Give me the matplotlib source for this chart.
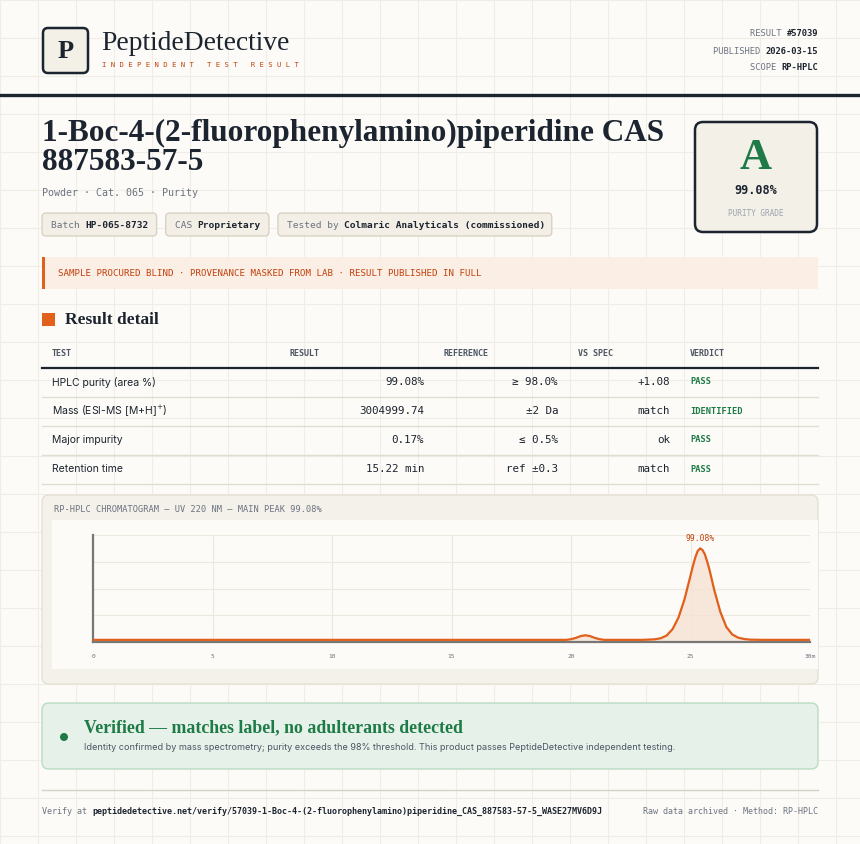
import matplotlib
matplotlib.use("Agg")
import matplotlib.pyplot as plt
from matplotlib.patches import FancyBboxPatch, Rectangle, Circle

# ---- data ----
time_min = [0, 5, 10, 15, 19.8, 20.0, 20.2, 20.4, 20.6, 20.8, 21.0, 21.2, 21.4, 23.0, 23.5, 23.75, 24.0, 24.25, 24.5, 24.75,
            25.0, 25.1, 25.2, 25.3, 25.4, 25.5, 25.6, 25.7, 25.8, 26.0, 26.25, 26.5, 26.75, 27.0, 27.25, 27.5, 28.0, 30.0]
signal = [0.02, 0.02, 0.02, 0.02, 0.02, 0.026, 0.038, 0.055, 0.063, 0.055, 0.038, 0.026, 0.02, 0.02, 0.025, 0.035, 0.06, 0.12, 0.23, 0.40,
          0.62, 0.71, 0.79, 0.85, 0.875, 0.86, 0.82, 0.75, 0.67, 0.48, 0.28, 0.14, 0.07, 0.04, 0.028, 0.022, 0.02, 0.02]
x_ticks = [0, 5, 10, 15, 20, 25, 30]
x_tick_labels = ["0", "5", "10", "15", "20", "25", "30m"]
table_headers = ["TEST", "RESULT", "REFERENCE", "VS SPEC", "VERDICT"]
tests = ["HPLC purity (area %)", "Mass (ESI-MS [M+H]$^{+}$)", "Major impurity", "Retention time"]
results = ["99.08%", "3004999.74", "0.17%", "15.22 min"]
references = ["≥ 98.0%", "±2 Da", "≤ 0.5%", "ref ±0.3"]
vs_spec = ["+1.08", "match", "ok", "match"]
verdicts = ["PASS", "IDENTIFIED", "PASS", "PASS"]
chips = [("Batch ", "HP-065-8732"), ("CAS ", "Proprietary"), ("Tested by ", "Colmaric Analyticals (commissioned)")]
meta = [("RESULT ", "#57039"), ("PUBLISHED ", "2026-03-15"), ("SCOPE ", "RP-HPLC")]

W, H = 860, 844
DARK = "#1c2430"; ORANGE = "#c2410c"; LINE_OR = "#e0601c"; GRAY = "#6b7280"; GREEN = "#1e7a46"
SERIF = "Liberation Serif"; MONO = "DejaVu Sans Mono"; SANS = "Inter"

fig = plt.figure(figsize=(W/100, H/100), dpi=100)
fig.patch.set_facecolor("#fcfbf7")
ax = fig.add_axes([0, 0, 1, 1])
ax.set_xlim(0, W); ax.set_ylim(H, 0); ax.axis("off")

for gx in range(0, W, 38):
    ax.plot([gx, gx], [0, H], color="#efede6", lw=0.8, zorder=0)
for gy in range(0, H, 38):
    ax.plot([0, W], [gy, gy], color="#efede6", lw=0.8, zorder=0)

def rbox(x0, y0, x1, y1, fc, ec, lw=1, r=4, z=1):
    ax.add_patch(FancyBboxPatch((x0, y0), x1-x0, y1-y0, boxstyle=f"round,pad=0,rounding_size={r}",
                                fc=fc, ec=ec, lw=lw, zorder=z))

def mw(s, size):
    return len(s) * size * 0.602 * 100 / 72

# header
rbox(43, 28, 88, 73, "#f3f0e8", DARK, lw=1.8, r=5)
ax.text(65.5, 51, "P", family=SERIF, weight="bold", fontsize=19, color=DARK, ha="center", va="center")
ax.text(101, 43, "PeptideDetective", family=SERIF, fontsize=19.8, color=DARK, va="center")
ax.text(102, 65, "I N D E P E N D E N T   T E S T   R E S U L T", family=MONO, fontsize=5.2, color=ORANGE, va="center")
for i, (lab, val) in enumerate(meta):
    y = 34 + i*17
    ax.text(818, y, val, family=MONO, weight="bold", fontsize=6.3, color=DARK, ha="right", va="center")
    ax.text(818 - mw(val, 6.3), y, lab, family=MONO, fontsize=6.3, color=GRAY, ha="right", va="center")
ax.plot([0, W], [95, 95], color=DARK, lw=2.4, zorder=2)

# title
ax.text(42, 133, "1-Boc-4-(2-fluorophenylamino)piperidine CAS", family=SERIF, weight="bold", fontsize=22.5, color=DARK, va="center")
ax.text(42, 163, "887583-57-5", family=SERIF, weight="bold", fontsize=22.5, color=DARK, va="center")
ax.text(42, 193, "Powder · Cat. 065 · Purity", family=MONO, fontsize=7.2, color=GRAY, va="center")
cx = 42
for lab, val in chips:
    w = mw(lab, 6.8) + mw(val, 6.8) + 18
    rbox(cx, 213, cx + w, 236, "#f3efe6", "#d6cfbf", lw=0.9, r=4)
    ax.text(cx + 9, 225, lab, family=MONO, fontsize=6.8, color=GRAY, va="center")
    ax.text(cx + 9 + mw(lab, 6.8), 225, val, family=MONO, weight="bold", fontsize=6.8, color=DARK, va="center")
    cx += w + 9

# grade box
rbox(695, 122, 817, 232, "#f3f0e8", DARK, lw=1.8, r=8)
ax.text(756, 158, "A", family=SERIF, weight="bold", fontsize=32, color=GREEN, ha="center", va="center")
ax.text(756, 191, "99.08%", family=MONO, weight="bold", fontsize=8.5, color=DARK, ha="center", va="center")
ax.text(756, 213, "PURITY GRADE", family=MONO, fontsize=5.6, color="#9ca3af", ha="center", va="center")

# banner
ax.add_patch(Rectangle((42, 257), 776, 32, fc="#fbeee4", ec="none", zorder=1))
ax.add_patch(Rectangle((42, 257), 3, 32, fc=LINE_OR, ec="none", zorder=2))
ax.text(58, 273, "SAMPLE PROCURED BLIND · PROVENANCE MASKED FROM LAB · RESULT PUBLISHED IN FULL",
        family=MONO, fontsize=6.6, color=ORANGE, va="center")

# result detail
ax.add_patch(Rectangle((42, 313), 13, 13, fc=LINE_OR, ec="none", zorder=2))
ax.text(65, 320, "Result detail", family=SERIF, weight="bold", fontsize=12.5, color=DARK, va="center")

# table
hx = [52, 289, 443, 578, 690]
for x, h in zip(hx, table_headers):
    ax.text(x, 353, h, family=MONO, weight="bold", fontsize=6, color="#4b5563", va="center")
ax.plot([42, 818], [368, 368], color=DARK, lw=1.6, zorder=2)
for i in range(len(tests)):
    y = 382 + i*29
    ax.text(52, y, tests[i], family=SANS, fontsize=7.5, color=DARK, va="center")
    ax.text(424, y, results[i], family=MONO, fontsize=7.8, color=DARK, ha="right", va="center")
    ax.text(558, y, references[i], family=MONO, fontsize=7.8, color=DARK, ha="right", va="center")
    ax.text(670, y, vs_spec[i], family=MONO, fontsize=7.8, color=DARK, ha="right", va="center")
    ax.text(690, y, verdicts[i], family=MONO, weight="bold", fontsize=6.2, color=GREEN, va="center")
    ax.plot([42, 818], [y + 15, y + 15], color="#e2ddd1", lw=1, zorder=2)

# chart panel
rbox(42, 495, 818, 684, "#f4f1ea", "#e5e0d4", lw=1, r=7)
ax.text(54, 510, "RP-HPLC CHROMATOGRAM — UV 220 NM — MAIN PEAK 99.08%", family=MONO, fontsize=6.2, color=GRAY, va="center")
ax.add_patch(Rectangle((52, 520), 766, 149, fc="#fcfbf7", ec="none", zorder=2))

cax = fig.add_axes([93/W, 1 - 642/H, (810-93)/W, (642-535)/H])
cax.set_facecolor("#fcfbf7")
cax.plot(time_min, signal, color=LINE_OR, lw=1.6, zorder=3)
cax.fill_between(time_min, 0, signal, color="#f6e2d3", alpha=0.8, zorder=2)
cax.set_xlim(0, 30); cax.set_ylim(0, 1)
cax.set_xticks(x_ticks); cax.set_xticklabels(x_tick_labels, family=MONO, fontsize=4.5, color=GRAY)
cax.set_yticks([0.25, 0.5, 0.75, 1.0]); cax.set_yticklabels([])
cax.tick_params(length=0, pad=9)
cax.grid(True, color="#ece8de", lw=0.8)
for s in ["top", "right"]:
    cax.spines[s].set_visible(False)
for s in ["left", "bottom"]:
    cax.spines[s].set_color("#777777"); cax.spines[s].set_linewidth(1.6)
pk = signal.index(max(signal))
cax.annotate("99.08%", (time_min[pk], signal[pk]), xytext=(0, 5), textcoords="offset points",
             ha="center", family=MONO, fontsize=5.8, color=ORANGE)

# verified box
rbox(42, 703, 818, 769, "#e6f2e9", "#b9dcc3", lw=1, r=7)
ax.add_patch(Circle((64, 737), 4, fc=GREEN, ec="none", zorder=3))
ax.text(84, 728, "Verified — matches label, no adulterants detected", family=SERIF, weight="bold", fontsize=12.8, color=GREEN, va="center")
ax.text(84, 748, "Identity confirmed by mass spectrometry; purity exceeds the 98% threshold. This product passes PeptideDetective independent testing.",
        family=SANS, fontsize=6.55, color="#4b5563", va="center")

# footer
FS = 6.0
ax.plot([42, 818], [790, 790], color="#d6d1c4", lw=1)
ax.text(42, 811, "Verify at", family=MONO, fontsize=FS, color=GRAY, va="center")
ax.text(42 + mw("Verify at ", FS), 811, "peptidedetective.net/verify/57039-1-Boc-4-(2-fluorophenylamino)piperidine_CAS_887583-57-5_WASE27MV6D9J",
        family=MONO, weight="bold", fontsize=FS, color=DARK, va="center")
ax.text(818, 811, "Raw data archived · Method: RP-HPLC", family=MONO, fontsize=FS, color=GRAY, ha="right", va="center")

fig.savefig("out.png", dpi=100, facecolor=fig.get_facecolor())
